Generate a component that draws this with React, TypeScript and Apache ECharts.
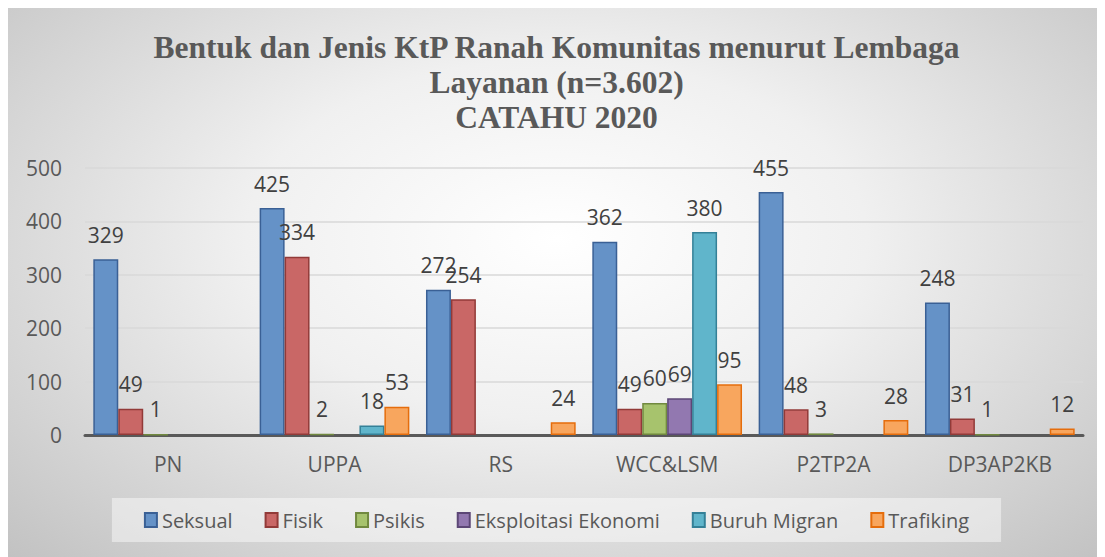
import React, { useEffect, useRef } from "react";
import * as echarts from "echarts";

const categories = ["PN", "UPPA", "RS", "WCC&LSM", "P2TP2A", "DP3AP2KB"];
const seksual = [329, 425, 272, 362, 455, 248];
const fisik = [49, 334, 254, 49, 48, 31];
const psikis = [1, 2, 0, 60, 3, 1];
const eksploitasi = [0, 0, 0, 69, 0, 0];
const buruhMigran = [0, 18, 0, 380, 0, 0];
const trafiking = [0, 53, 24, 95, 28, 12];
const yTicks = { min: 0, max: 500, interval: 100 };

const seriesDefs = [
  { name: "Seksual", data: seksual, fill: "#6592c7", border: "#3a6095" },
  { name: "Fisik", data: fisik, fill: "#c96766", border: "#923a38" },
  { name: "Psikis", data: psikis, fill: "#a7c36d", border: "#71893f" },
  { name: "Eksploitasi Ekonomi", data: eksploitasi, fill: "#9278b0", border: "#5c4776" },
  { name: "Buruh Migran", data: buruhMigran, fill: "#60b5cb", border: "#348097" },
  { name: "Trafiking", data: trafiking, fill: "#f8a65e", border: "#e56d0c" },
];

const FONT = "'Open Sans', sans-serif";

export default function App() {
  const ref = useRef<HTMLDivElement>(null);
  useEffect(() => {
    if (!ref.current) return;
    const chart = echarts.init(ref.current, null, { renderer: "svg" });
    chart.setOption({
      animation: false,
      title: {
        text: "Bentuk dan Jenis KtP Ranah Komunitas menurut Lembaga\nLayanan (n=3.602)\nCATAHU 2020",
        left: "center",
        top: 17,
        textStyle: {
          fontFamily: "'Liberation Serif', serif",
          fontWeight: "bold",
          fontSize: 31.5,
          lineHeight: 35,
          color: "#595959",
        },
      },
      grid: { left: 77, right: 22, top: 160, bottom: 122 },
      legend: {
        top: 490,
        left: "center",
        padding: [12, 32],
        backgroundColor: "rgba(255,255,255,0.45)",
        itemWidth: 12,
        itemHeight: 14,
        itemGap: 32,
        icon: "rect",
        textStyle: { fontFamily: FONT, fontSize: 20, color: "#595959" },
        data: seriesDefs.map((s) => s.name),
      },
      xAxis: {
        type: "category",
        data: categories,
        axisLine: { lineStyle: { color: "#595959", width: 3 } },
        axisTick: { show: false },
        axisLabel: { fontFamily: FONT, fontSize: 21, color: "#595959", margin: 18 },
      },
      yAxis: {
        type: "value",
        min: yTicks.min,
        max: yTicks.max,
        interval: yTicks.interval,
        axisLine: { show: false },
        axisTick: { show: false },
        axisLabel: { fontFamily: FONT, fontSize: 21, color: "#595959", margin: 23 },
        splitLine: { lineStyle: { color: "#d9d9d9", width: 1.5 } },
      },
      series: seriesDefs.map((s) => ({
        name: s.name,
        type: "bar",
        data: s.data.map((v) => (v === 0 ? null : v)),
        barGap: "0%",
        barCategoryGap: "10%",
        itemStyle: { color: s.fill, borderColor: s.border, borderWidth: 1.5 },
        label: {
          show: true,
          position: "top",
          distance: 14,
          fontFamily: FONT,
          fontSize: 21,
          color: "#404040",
        },
      })),
    });
    return () => chart.dispose();
  }, []);
  return (
    <div
      ref={ref}
      style={{
        width: 1097,
        height: 549,
        background:
          "radial-gradient(ellipse at 50% 42%, #ffffff 0%, #f0f0f0 40%, #c2c2c2 100%)",
      }}
    />
  );
}
